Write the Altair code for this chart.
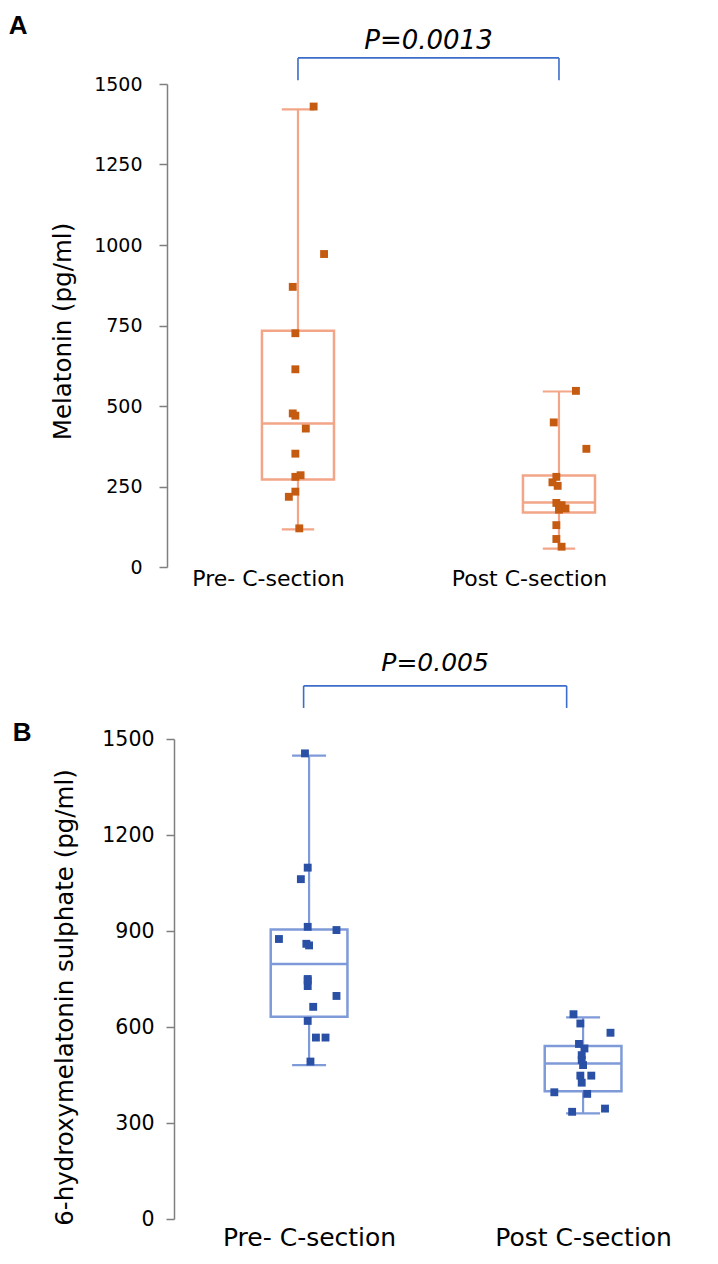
import altair as alt
import pandas as pd

groups = ["Pre- C-section", "Post C-section"]

# Panel A: melatonin (pg/ml)
mel_pre = [1430, 972, 870, 726, 614, 477, 470, 430, 352, 285, 280, 234, 218, 120]
mel_pre_jitter = [0.06, 0.10, -0.02, -0.01, -0.01, -0.02, -0.01, 0.03, -0.01, 0.01, -0.01, -0.01, -0.035, 0.005]
mel_post = [547, 449, 367, 280, 263, 252, 199, 192, 182, 178, 130, 87, 63]
mel_post_jitter = [0.065, -0.02, 0.105, -0.01, -0.025, -0.005, -0.01, 0.01, 0.025, 0.0, -0.01, -0.01, 0.01]
mel_min = [117, 57]
mel_q1 = [272, 169]
mel_median = [446, 200]
mel_q3 = [734, 284]
mel_max = [1421, 545]
mel_ticks = [0, 250, 500, 750, 1000, 1250, 1500]
mel_p = "P=0.0013"
mel_bracket = [1512, 1581]
mel_bracket_x = [1.0, 2.0]
mel_p_level = 1634

# Panel B: 6-hydroxymelatonin sulphate (pg/ml)
hm_pre = [1455, 1098, 1062, 913, 903, 875, 860, 855, 750, 745, 728, 697, 663, 619, 567, 567, 492]
hm_pre_jitter = [-0.015, -0.005, -0.03, -0.005, 0.10, -0.11, -0.01, 0.0, -0.005, -0.005, -0.005, 0.10, 0.015, -0.005, 0.025, 0.06, 0.005]
hm_post = [640, 611, 582, 547, 533, 512, 497, 481, 448, 448, 426, 396, 391, 345, 335]
hm_post_jitter = [-0.035, -0.01, 0.10, -0.015, 0.005, -0.005, -0.005, 0.0, -0.01, 0.03, -0.005, -0.105, 0.015, 0.08, -0.04]
hm_min = [481, 330]
hm_q1 = [632, 399]
hm_median = [797, 486]
hm_q3 = [905, 541]
hm_max = [1448, 630]
hm_ticks = [0, 300, 600, 900, 1200, 1500]
hm_p = "P=0.005"
hm_bracket = [1597, 1666]
hm_bracket_x = [0.98, 1.94]
hm_p_level = 1737

FONT = "DejaVu Sans"
label_expr = f"datum.value == 1 ? '{groups[0]}' : '{groups[1]}'"


def panel(letter, pre, pre_j, post, post_j, vmin, q1, med, q3, vmax, ticks,
          ytitle, ptext, bracket, bracket_x, plevel, box_color, pt_color, xdomain, half_box,
          width, height, tick_fs, title_fs, cat_fs, cat_pad, cat_offset, p_fs,
          axis_offset, label_pad, title_pad, title_y, letter_dx, letter_dy, letter_offset):
    pts = pd.DataFrame({
        "g": [1] * len(pre) + [2] * len(post),
        "value": pre + post,
        "jit": pre_j + post_j,
    })
    pts["pos"] = pts["g"] + pts["jit"]
    stats = pd.DataFrame({"g": [1, 2], "min": vmin, "q1": q1, "med": med, "q3": q3, "max": vmax})
    br_ends = pd.DataFrame({"g": bracket_x, "lo": [bracket[0]] * 2, "hi": [bracket[1]] * 2})
    br_bar = pd.DataFrame({"g1": [bracket_x[0]], "g2": [bracket_x[1]], "hi": [bracket[1]]})
    ptxt = pd.DataFrame({"g": [(bracket_x[0] + bracket_x[1]) / 2], "y": [plevel], "t": [ptext]})

    xscale = alt.Scale(domain=xdomain, nice=False, zero=False)
    yscale = alt.Scale(domain=[0, 1500], nice=False, zero=True)
    xaxis = alt.Axis(values=[1, 2], labelExpr=label_expr, ticks=False, domain=False,
                     grid=False, title=None, labelFont=FONT, labelFontSize=cat_fs,
                     labelColor="#000000", labelPadding=cat_pad, labelFlush=False,
                     labelOffset=cat_offset, labelOverlap=False)
    yaxis = alt.Axis(values=ticks, format="d", title=ytitle, grid=False, tickSize=8,
                     tickColor="#7f7f7f", domainColor="#7f7f7f", tickWidth=1.5,
                     domainWidth=1.5, labelFont=FONT, labelFontSize=tick_fs,
                     labelColor="#000000", labelPadding=label_pad, titleFont=FONT,
                     titleFontSize=title_fs, titleFontWeight="normal",
                     titleColor="#000000", titlePadding=title_pad, titleY=title_y,
                     offset=axis_offset)

    hb = half_box
    hc = 0.062
    base_stats = alt.Chart(stats).transform_calculate(
        bl=f"datum.g - {hb}", br=f"datum.g + {hb}",
        cl=f"datum.g - {hc}", cr=f"datum.g + {hc}")

    whisk = base_stats.mark_rule(color=box_color, strokeWidth=2.2).encode(
        x=alt.X("g:Q", scale=xscale, axis=xaxis),
        y=alt.Y("min:Q", scale=yscale, axis=yaxis), y2="max:Q")
    cap_top = base_stats.mark_rule(color=box_color, strokeWidth=2.2).encode(
        x=alt.X("cl:Q", scale=xscale), x2="cr:Q", y=alt.Y("max:Q", scale=yscale))
    cap_bot = base_stats.mark_rule(color=box_color, strokeWidth=2.2).encode(
        x=alt.X("cl:Q", scale=xscale), x2="cr:Q", y=alt.Y("min:Q", scale=yscale))
    box = base_stats.mark_rect(fill="white", stroke=box_color, strokeWidth=2.5).encode(
        x=alt.X("bl:Q", scale=xscale), x2="br:Q",
        y=alt.Y("q1:Q", scale=yscale), y2="q3:Q")
    median = base_stats.mark_rule(color=box_color, strokeWidth=2.5).encode(
        x=alt.X("bl:Q", scale=xscale), x2="br:Q", y=alt.Y("med:Q", scale=yscale))
    points = alt.Chart(pts).mark_point(shape="square", filled=True, size=62,
                                       color=pt_color, opacity=1).encode(
        x=alt.X("pos:Q", scale=xscale), y=alt.Y("value:Q", scale=yscale))
    b_ends = alt.Chart(br_ends).mark_rule(color="#3d6cc9", strokeWidth=1.6).encode(
        x=alt.X("g:Q", scale=xscale), y=alt.Y("lo:Q", scale=yscale), y2="hi:Q")
    b_bar = alt.Chart(br_bar).mark_rule(color="#3d6cc9", strokeWidth=1.6).encode(
        x=alt.X("g1:Q", scale=xscale), x2="g2:Q", y=alt.Y("hi:Q", scale=yscale))
    p_label = alt.Chart(ptxt).mark_text(font=FONT, fontStyle="italic", fontSize=p_fs,
                                        color="#000000", baseline="middle").encode(
        x=alt.X("g:Q", scale=xscale), y=alt.Y("y:Q", scale=yscale), text="t:N")

    return alt.layer(whisk, cap_top, cap_bot, box, median, points, b_ends, b_bar, p_label).properties(
        width=width, height=height,
        title=alt.TitleParams(text=letter, anchor="start", frame="bounds", font="Liberation Sans",
                              fontSize=26, fontWeight="bold", color="#000000",
                              dx=letter_dx, dy=letter_dy, offset=letter_offset))


panel_a = panel("A", mel_pre, mel_pre_jitter, mel_post, mel_post_jitter,
                mel_min, mel_q1, mel_median, mel_q3, mel_max, mel_ticks,
                "Melatonin (pg/ml)", mel_p, mel_bracket, mel_bracket_x, mel_p_level,
                "#f3a587", "#c55a11", [0.525, 2.548], 0.138,
                528, 483, 19, 24.5, 22, 1, -30, 26,
                7, 17, 18, 247, -42, 0, -11)
panel_b = panel("B", hm_pre, hm_pre_jitter, hm_post, hm_post_jitter,
                hm_min, hm_q1, hm_median, hm_q3, hm_max, hm_ticks,
                "6-hydroxymelatonin sulphate (pg/ml)", hm_p, hm_bracket, hm_bracket_x, hm_p_level,
                "#7f9ad9", "#2a50a6", [0.507, 2.434], 0.14,
                528, 480, 20.5, 24.5, 25, 6, 0, 25,
                0, 12, 24, 258, -40, 95, 0)

chart = alt.vconcat(panel_a, panel_b, spacing=62).configure_view(stroke=None).properties(
    background="white", padding={"left": 0, "top": 4, "right": 5, "bottom": 5})

chart.save("out.html", embed_options={"renderer": "svg", "actions": False})
